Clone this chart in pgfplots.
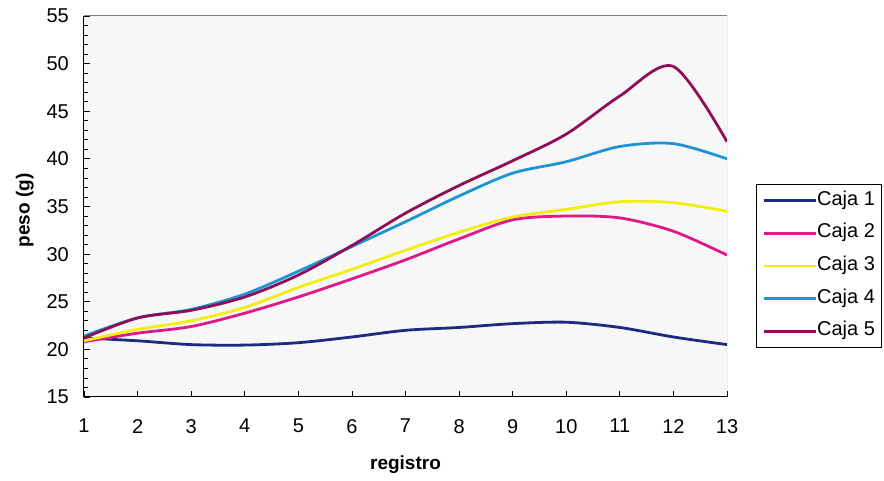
\documentclass[border=0pt]{standalone}
\usepackage{fontspec}
\setmainfont{Liberation Sans}
\usepackage{pgfplots}
\pgfplotsset{compat=1.18}

\definecolor{caja1}{HTML}{1C2A80}
\definecolor{caja2}{HTML}{E0188A}
\definecolor{caja3}{HTML}{F2EE10}
\definecolor{caja4}{HTML}{1E95D2}
\definecolor{caja5}{HTML}{8E0E58}

\begin{document}
\begin{tikzpicture}
\begin{axis}[
  at={(84pt,84pt)}, anchor=south west,
  scale only axis, width=643pt, height=381pt,
  xmin=1, xmax=13, ymin=15, ymax=55,
  xtick={1,...,13}, ytick={15,20,...,55},
  minor y tick num=4,
  axis x line*=bottom, axis y line*=left,
  axis line style={black, line width=1pt},
  tick align=inside,
  major tick length=6pt, minor tick length=4pt,
  tick style={black, line width=0.8pt},
  axis background/.style={fill=gray!6},
  /pgf/number format/assume math mode=true,
  tick label style={font=\fontsize{20}{22}\selectfont},
  yticklabel style={inner sep=0pt, xshift=-15pt},
  xticklabel style={inner sep=0pt, yshift=-22pt},
  xlabel={\textbf{registro}},
  ylabel={\textbf{peso (g)}},
  label style={font=\fontsize{19}{22}\selectfont},
  xlabel style={at={(axis description cs:0.5,-0.178)}, anchor=center},
  ylabel style={at={(axis description cs:-0.092,0.49)}, anchor=center, rotate=0},
  legend cell align=left,
  legend image code/.code={\draw[#1, line width=2.8pt] (0pt,0pt) -- (52pt,0pt);},
  legend style={
    at={(axis description cs:1.0451,0.5591)}, anchor=north west,
    draw=black, line width=0.7pt, fill=white,
    font=\fontsize{20}{22}\selectfont,
    inner xsep=6pt, inner ysep=8pt,
    row sep=15.6pt,
    nodes={inner sep=0pt, text height=13pt, text depth=4pt},
    /tikz/every even column/.append style={column sep=2pt},
  },
  every axis plot/.append style={line width=2.8pt, smooth, no markers},
]
\addplot[caja1] coordinates {
 (1,21.2) (2,20.9) (3,20.5) (4,20.45) (5,20.7) (6,21.3) (7,22.0)
 (8,22.3) (9,22.7) (10,22.85) (11,22.3) (12,21.3) (13,20.5)};
\addlegendentry{Caja 1}
\addplot[caja2] coordinates {
 (1,20.8) (2,21.7) (3,22.4) (4,23.8) (5,25.5) (6,27.4) (7,29.4)
 (8,31.6) (9,33.6) (10,34.0) (11,33.8) (12,32.4) (13,29.9)};
\addlegendentry{Caja 2}
\addplot[caja3] coordinates {
 (1,20.9) (2,22.1) (3,23.0) (4,24.4) (5,26.5) (6,28.4) (7,30.4)
 (8,32.3) (9,33.9) (10,34.7) (11,35.5) (12,35.4) (13,34.5)};
\addlegendentry{Caja 3}
\addplot[caja4] coordinates {
 (1,21.4) (2,23.3) (3,24.2) (4,25.8) (5,28.2) (6,30.8) (7,33.4)
 (8,36.1) (9,38.5) (10,39.7) (11,41.3) (12,41.6) (13,40.0)};
\addlegendentry{Caja 4}
\addplot[caja5] coordinates {
 (1,21.2) (2,23.3) (3,24.1) (4,25.5) (5,27.8) (6,30.9) (7,34.3)
 (8,37.2) (9,39.8) (10,42.6) (11,46.6) (12,49.7) (13,41.8)};
\addlegendentry{Caja 5}
% grey frame on the top and right of the plot area
\draw[gray, line width=1pt] (rel axis cs:0,1) -- (rel axis cs:1,1) -- (rel axis cs:1,0);
\end{axis}
\pgfresetboundingbox
\path[use as bounding box] (0,0) rectangle (884pt,481pt);
\end{tikzpicture}
\end{document}
